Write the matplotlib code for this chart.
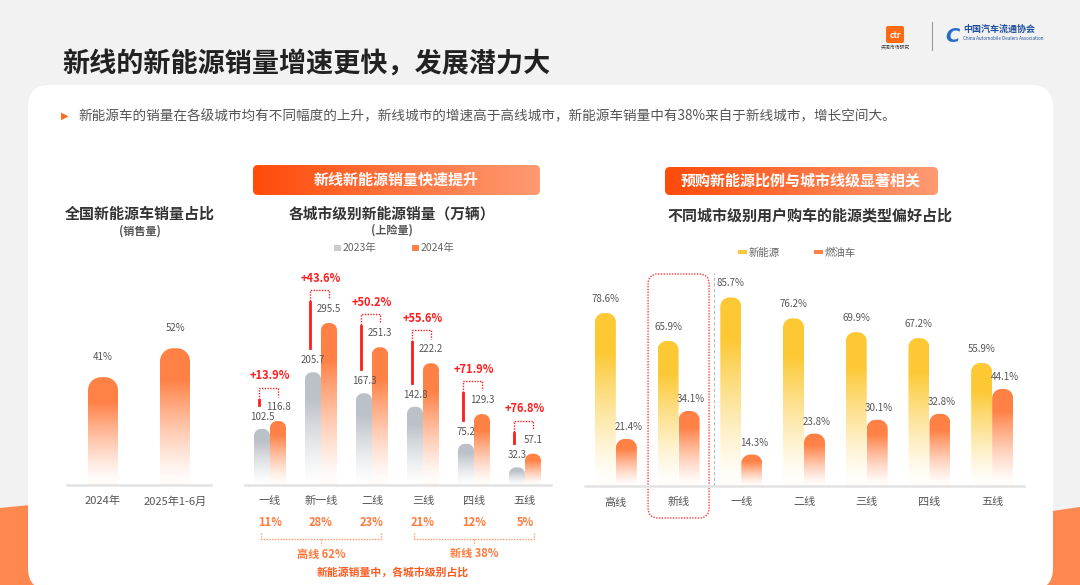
import numpy as np
import matplotlib
matplotlib.use('Agg')
import matplotlib.pyplot as plt
from matplotlib.patches import FancyBboxPatch, Rectangle, Polygon, PathPatch
from matplotlib.path import Path
from matplotlib.transforms import blended_transform_factory
from matplotlib.colors import to_rgb

plt.rcParams['font.family'] = ['Noto Sans CJK SC', 'DejaVu Sans']

# ---- data ----
share_years = ['2024年', '2025年1-6月']
share_values = [41, 52]

cities = ['一线', '新一线', '二线', '三线', '四线', '五线']
sales_2023 = [102.5, 205.7, 167.3, 142.8, 75.2, 32.3]
sales_2024 = [116.8, 295.5, 251.3, 222.2, 129.3, 57.1]
growth = ['+13.9%', '+43.6%', '+50.2%', '+55.6%', '+71.9%', '+76.8%']
city_share = ['11%', '28%', '23%', '21%', '12%', '5%']
group_names = ['高线 62%', '新线 38%']
group_span = [(0, 2), (3, 5)]

pref_tiers = ['高线', '新线', '一线', '二线', '三线', '四线', '五线']
pref_nev = [78.6, 65.9, 85.7, 76.2, 69.9, 67.2, 55.9]
pref_ice = [21.4, 34.1, 14.3, 23.8, 30.1, 32.8, 44.1]

W, H = 1080, 585
ORANGE = '#ff8146'
GRAY = '#bcc1c8'
YELLOW = '#fcc935'
RED = '#ff1e1e'
TXT = '#333333'
LBL = '#555555'

fig = plt.figure(figsize=(W / 100, H / 100), dpi=100)
fig.patch.set_facecolor('#f2f2f2')

# background axes in pixel units
bg = fig.add_axes([0, 0, 1, 1])
bg.set_xlim(0, W)
bg.set_ylim(H, 0)
bg.axis('off')


def px_axes(x0, x1, ybase, ytop):
    a = fig.add_axes([x0 / W, (H - ybase) / H, (x1 - x0) / W, (ybase - ytop) / H])
    a.set_facecolor('none')
    for s in ['top', 'right', 'left']:
        a.spines[s].set_visible(False)
    a.spines['bottom'].set_color('#e2e2e2')
    a.spines['bottom'].set_linewidth(1.8)
    a.set_yticks([])
    a.tick_params(axis='x', length=0, pad=8, labelsize=8, labelcolor=LBL)
    return a


def grad_bar(ax, xc, h, w, color, rx, ry):
    x0, x1 = xc - w / 2, xc + w / 2
    ry = min(ry, h)
    t1 = np.linspace(np.pi, np.pi / 2, 12)
    t2 = np.linspace(np.pi / 2, 0, 12)
    left = np.column_stack([x0 + rx + rx * np.cos(t1), h - ry + ry * np.sin(t1)])
    right = np.column_stack([x1 - rx + rx * np.cos(t2), h - ry + ry * np.sin(t2)])
    verts = np.vstack([[x0, 0], left, right, [x1, 0], [x0, 0]])
    codes = [Path.MOVETO] + [Path.LINETO] * (len(verts) - 2) + [Path.CLOSEPOLY]
    patch = PathPatch(Path(verts, codes), facecolor='none', edgecolor='none')
    ax.add_patch(patch)
    n = 120
    tt = np.linspace(1, 0, n)
    alpha = np.clip(tt * 1.3, 0, 1) ** 1.3
    img = np.ones((n, 1, 4))
    img[:, 0, :3] = to_rgb(color)
    img[:, 0, 3] = np.maximum(alpha, 0.03)
    im = ax.imshow(img, extent=[x0, x1, 0, h], aspect='auto', origin='upper',
                   zorder=2, interpolation='bilinear')
    im.set_clip_path(patch)


def grad_box(x, y, w, h, c0, c1, r=5):
    box = FancyBboxPatch((x, y), w, h, boxstyle='round,pad=0,rounding_size=%d' % r,
                         facecolor='none', edgecolor='none')
    bg.add_patch(box)
    n = 200
    img = np.zeros((1, n, 4))
    a, b = np.array(to_rgb(c0)), np.array(to_rgb(c1))
    for k in range(n):
        img[0, k, :3] = a + (b - a) * k / (n - 1)
    img[0, :, 3] = 1
    im = bg.imshow(img, extent=[x, x + w, y + h, y], aspect='auto', zorder=3)
    im.set_clip_path(box)


# ---- decorations ----
bg.add_patch(Polygon([(0, 508), (80, 500), (80, 585), (0, 585)], closed=True,
                     facecolor='#ff8750', edgecolor='none', zorder=0))
bg.add_patch(Polygon([(990, 520), (1080, 507), (1080, 585), (990, 585)], closed=True,
                     facecolor='#ff8750', edgecolor='none', zorder=0))
bg.add_patch(FancyBboxPatch((28, 85), 1025, 505, boxstyle='round,pad=0,rounding_size=22',
                            facecolor='white', edgecolor='none', zorder=1))

bg.text(62, 64, '新线的新能源销量增速更快，发展潜力大', fontsize=19.5, fontweight='bold',
        color='#222222', va='center', ha='left', zorder=4)
bg.text(61, 116, '▶', fontsize=7, color='#ff6a1f', va='center', ha='left',
        family=['DejaVu Sans'], zorder=4)
bg.text(78, 116, '新能源车的销量在各级城市均有不同幅度的上升，新线城市的增速高于高线城市，'
        '新能源车销量中有38%来自于新线城市，增长空间大。', fontsize=9.8, color='#555555',
        va='center', ha='left', zorder=4)

# logos
bg.add_patch(FancyBboxPatch((886, 26), 18, 17, boxstyle='round,pad=0,rounding_size=2',
                            facecolor='#ff6a13', edgecolor='none', zorder=4))
bg.text(895, 35, 'ctr', fontsize=6, color='white', fontweight='bold', ha='center',
        va='center', zorder=5)
bg.text(895, 48, '央视市场研究', fontsize=3.5, color='#444444', ha='center', va='center', zorder=5)
bg.plot([932, 932], [22, 50], color='#999999', lw=0.8, zorder=4)
bg.text(952, 36, 'C', fontsize=14, color='#2a6dc4', fontstyle='italic', fontweight='bold',
        ha='center', va='center', family=['DejaVu Sans'], zorder=4)
bg.text(963, 29, '中国汽车流通协会', fontsize=6.5, color='#1f4fa0', fontweight='bold',
        ha='left', va='center', zorder=4)
bg.text(963, 39, 'China Automobile Dealers Association', fontsize=3.3, color='#1f4fa0',
        ha='left', va='center', zorder=4)

# banners
grad_box(253, 165, 287, 30, '#ff4b0a', '#ff9a72')
bg.text(396, 180, '新线新能源销量快速提升', fontsize=10.8, fontweight='bold', color='white',
        ha='center', va='center', zorder=5)
grad_box(665, 167, 273, 28, '#ff4b0a', '#ff9a72')
bg.text(801, 181, '预购新能源比例与城市线级显著相关', fontsize=10.8, fontweight='bold',
        color='white', ha='center', va='center', zorder=5)

# chart titles
bg.text(140, 214, '全国新能源车销量占比', fontsize=10.8, fontweight='bold', color=TXT,
        ha='center', va='center', zorder=4)
bg.text(140, 231, '(销售量)', fontsize=8, fontweight='bold', color=LBL,
        ha='center', va='center', zorder=4)
bg.text(392, 214, '各城市级别新能源销量（万辆）', fontsize=10.6, fontweight='bold', color=TXT,
        ha='center', va='center', zorder=4)
bg.text(392, 230, '(上险量)', fontsize=8, fontweight='bold', color=LBL,
        ha='center', va='center', zorder=4)
bg.text(810, 215, '不同城市级别用户购车的能源类型偏好占比', fontsize=10.8, fontweight='bold',
        color=TXT, ha='center', va='center', zorder=4)

# legends
bg.add_patch(Rectangle((334, 245), 7, 6, facecolor='#c9ccd1', edgecolor='none', zorder=4))
bg.text(343, 248, '2023年', fontsize=7.5, color='#666666', va='center', zorder=4)
bg.add_patch(Rectangle((412, 245), 7, 6, facecolor=ORANGE, edgecolor='none', zorder=4))
bg.text(421, 248, '2024年', fontsize=7.5, color='#666666', va='center', zorder=4)
bg.add_patch(Rectangle((738, 250), 9, 4, facecolor=YELLOW, edgecolor='none', zorder=4))
bg.text(749, 253, '新能源', fontsize=7.5, color='#666666', va='center', zorder=4)
bg.add_patch(Rectangle((814, 250), 9, 4, facecolor=ORANGE, edgecolor='none', zorder=4))
bg.text(825, 253, '燃油车', fontsize=7.5, color='#666666', va='center', zorder=4)

# ---- chart 1: national share ----
a1_x0, a1_x1, a1_base, a1_top = 67, 211, 485, 200
ax1 = px_axes(a1_x0, a1_x1, a1_base, a1_top)
ppx1 = (a1_x1 - a1_x0) / 2.0
ppy1 = 2.63
for i, v in enumerate(share_values):
    grad_bar(ax1, i, v, 30 / ppx1, ORANGE, 13 / ppx1, 13 / ppy1)
    ax1.text(i, v + 20 / ppy1, f'{v}%', fontsize=7, color=LBL, ha='center', va='center')
ax1.set_xticks(range(len(share_years)))
ax1.set_xticklabels(share_years)
ax1.set_xlim(-0.5, 1.5)
ax1.set_ylim(0, (a1_base - a1_top) / ppy1)

# ---- chart 2: sales by tier ----
a2_x0, a2_x1, a2_base, a2_top = 244.5, 550.5, 485, 260
ax2 = px_axes(a2_x0, a2_x1, a2_base, a2_top)
ppx2 = (a2_x1 - a2_x0) / 6.0
ppy2 = 0.548
bw2 = 16 / ppx2
off2 = 8 / ppx2
PY = 1 / ppy2
PX = 1 / ppx2
for i in range(len(cities)):
    g, o = sales_2023[i], sales_2024[i]
    xg, xo = i - off2, i + off2
    grad_bar(ax2, xg, g, bw2, GRAY, 7 * PX, 7 * PY)
    grad_bar(ax2, xo, o, bw2, ORANGE, 7 * PX, 7 * PY)
    ax2.text(xg, g + 12 * PY, f'{g}', fontsize=7, color=LBL, ha='center', va='center', zorder=4)
    ax2.text(xo, o + 14 * PY, f'{o}', fontsize=7, color=LBL, ha='center', va='center', zorder=4)
    xl = xg - 3 * PX
    y_solid0 = g + 24 * PY
    y_solid1 = o + 21 * PY
    y_top = o + 33 * PY
    if y_solid1 > y_solid0:
        ax2.plot([xl, xl], [y_solid0, y_solid1], color=RED, lw=2, zorder=4, clip_on=False)
    ax2.plot([xl, xl, xo, xo], [min(y_solid0, y_solid1), y_top, y_top, o + 24 * PY],
             color=RED, lw=1, ls=(0, (1, 1)), zorder=4, clip_on=False)
    ax2.text(i, o + 45 * PY, growth[i], fontsize=8, fontweight='bold', color=RED,
             ha='center', va='center', zorder=4, clip_on=False)
ax2.set_xticks(range(len(cities)))
ax2.set_xticklabels(cities)
ax2.set_xlim(-0.5, 5.5)
ax2.set_ylim(0, (a2_base - a2_top) / ppy2)

tr2 = blended_transform_factory(ax2.transData, bg.transData)
SHARE = '#ff7a3d'
for i, s in enumerate(city_share):
    ax2.text(i, 523, s, transform=tr2, fontsize=8, fontweight='bold', color=SHARE,
             ha='center', va='center', clip_on=False)
for name, (ia, ib) in zip(group_names, group_span):
    xa, xb = ia - 0.18, ib + 0.18
    xm = (ia + ib) / 2.0
    ax2.plot([xa, xa, xb, xb], [533, 539, 539, 533], transform=tr2, color='#ff9a6a',
             lw=1, ls=(0, (1, 1)), clip_on=False)
    ax2.plot([xm, xm], [539, 545], transform=tr2, color='#ff9a6a', lw=1,
             ls=(0, (1, 1)), clip_on=False)
    ax2.text(xm, 554, name, transform=tr2, fontsize=8, fontweight='bold', color=SHARE,
             ha='center', va='center', clip_on=False)
bg.text(393, 572, '新能源销量中，各城市级别占比', fontsize=7.8, fontweight='bold',
        color='#ff5a1f', ha='center', va='center', zorder=4)

# ---- chart 3: preference ----
a3_x0, a3_x1, a3_base, a3_top = 584.5, 1023.5, 486, 270
ax3 = px_axes(a3_x0, a3_x1, a3_base, a3_top)
ppx3 = (a3_x1 - a3_x0) / 7.0
ppy3 = 2.2
bw3 = 21 / ppx3
off3 = 10.5 / ppx3
for i in range(len(pref_tiers)):
    v1, v2 = pref_nev[i], pref_ice[i]
    grad_bar(ax3, i - off3, v1, bw3, YELLOW, 9 / ppx3, 9 / ppy3)
    grad_bar(ax3, i + off3, v2, bw3, ORANGE, 9 / ppx3, 9 / ppy3)
    ax3.text(i - off3, v1 + 14 / ppy3, f'{v1}%', fontsize=7, color=LBL, ha='center',
             va='center', zorder=4, clip_on=False)
    ax3.text(i + off3 + 2 / ppx3, v2 + 12 / ppy3, f'{v2}%', fontsize=7, color=LBL,
             ha='center', va='center', zorder=4, clip_on=False)
ax3.set_xticks(range(len(pref_tiers)))
ax3.set_xticklabels(pref_tiers)
ax3.set_xlim(-0.5, 6.5)
ax3.set_ylim(0, (a3_base - a3_top) / ppy3)
ax3.axvline(1.56, ymin=0, ymax=(a3_base - 273) / (a3_base - a3_top), color='#bbbbbb',
            lw=0.8, ls=(0, (3, 2)), zorder=1)

# highlight box around 新线
hx = a3_x0 + (1 + 0.5) * ppx3
bg.add_patch(FancyBboxPatch((hx - 30.5, 274), 61, 244,
                            boxstyle='round,pad=0,rounding_size=10', facecolor='none',
                            edgecolor='#ff3b3b', lw=1, ls=(0, (1, 1)), zorder=6))

fig.savefig('out.png', dpi=100, facecolor=fig.get_facecolor())
